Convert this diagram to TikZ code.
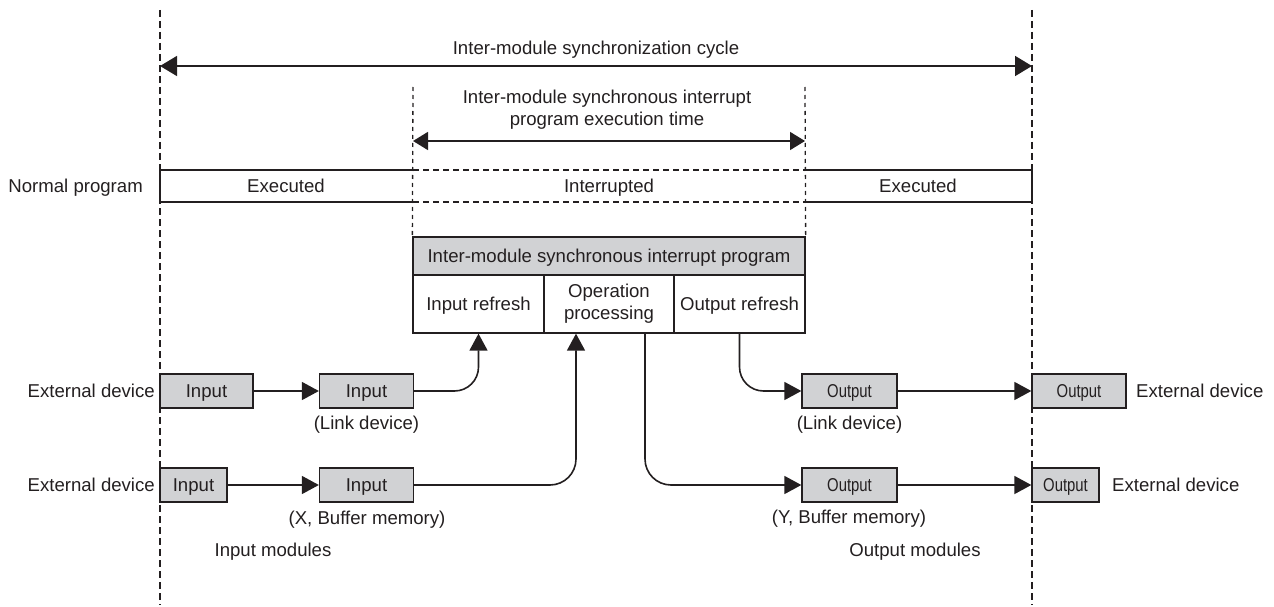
\documentclass[tikz,border=0pt]{standalone}
\usepackage{fontspec}
\usepackage{graphicx}
\setmainfont{Liberation Sans}
\usetikzlibrary{arrows.meta}
\definecolor{ink}{HTML}{231F20}
\definecolor{boxgray}{HTML}{D1D2D4}
\begin{document}
\begin{tikzpicture}[x=1pt,y=-1pt,
  font=\fontsize{18.6}{22}\selectfont,
  every node/.style={text=ink, text height=13.4pt, text depth=0pt},
  multi/.style={text height=, text depth=},
  gbox/.style={draw=ink, fill=boxgray, line width=1.3pt, minimum height=34pt, inner sep=0pt},
  cell/.style={draw=ink, line width=1.3pt, minimum height=58pt, inner sep=0pt, align=center},
  hdrbox/.style={draw=ink, fill=boxgray, line width=1.3pt, minimum height=38pt, minimum width=392pt, inner sep=0pt},
  arr/.style={draw=ink, line width=1.6pt, -{Triangle[length=17pt,width=18pt]}},
  dimarr/.style={draw=ink, line width=1.6pt, {Triangle[length=17pt,width=20pt]}-{Triangle[length=17pt,width=20pt]}},
  dimarrs/.style={draw=ink, line width=1.6pt, {Triangle[length=15pt,width=18pt]}-{Triangle[length=15pt,width=18pt]}},
  outerdash/.style={draw=ink, line width=1.8pt, dash pattern=on 7pt off 4pt},
  innerdash/.style={draw=ink, line width=1.3pt, dash pattern=on 4pt off 4pt},
  barline/.style={draw=ink, line width=1.4pt},
  bardash/.style={draw=ink, line width=1.4pt, dash pattern=on 6pt off 4pt},
  lbl/.style={inner sep=0pt}]
\useasboundingbox (0,0) rectangle (1274,607);

% vertical dashed guides
\coordinate (Ltop) at (160,10);
\coordinate (Lbot) at (160,605);
\coordinate (Rtop) at (1032,10);
\coordinate (Rbot) at (1032,605);
\coordinate (ILtop) at (413,87);
\coordinate (IRtop) at (805,87);

% interrupt program box
\node[hdrbox] (hdr) at (609,256) {Inter-module synchronous interrupt program};
\node[cell, minimum width=131pt] (ir) at (478.5,304) {Input refresh};
\node[cell, multi, minimum width=130pt] (op) at (609,304) {Operation\\processing};
\node[cell, minimum width=131pt] (or) at (739.5,304) {Output refresh};

\draw[outerdash] (Ltop) -- (Lbot);
\draw[outerdash] (Rtop) -- (Rbot);
\draw[innerdash] (ILtop) -- (hdr.north west);
\draw[innerdash] (IRtop) -- (hdr.north east);

% dimension arrows
\coordinate (c1L) at (160,66);
\coordinate (c1R) at (1032,66);
\draw[dimarr] (c1L) -- (c1R);
\node[lbl] (cyc) at (596,48) {Inter-module synchronization cycle};
\coordinate (c2L) at (413,141);
\coordinate (c2R) at (805,141);
\draw[dimarrs] (c2L) -- (c2R);
\node[lbl, multi, align=center] (ext) at (607,110) {Inter-module synchronous interrupt\\program execution time};

% normal program bar
\coordinate (b1t) at (160,170); \coordinate (b1b) at (160,202);
\coordinate (b2t) at (413,170); \coordinate (b2b) at (413,202);
\coordinate (b3t) at (805,170); \coordinate (b3b) at (805,202);
\coordinate (b4t) at (1032,170); \coordinate (b4b) at (1032,202);
\draw[barline] (b2t) -- (b1t) -- (b1b) -- (b2b);
\draw[bardash] (b2t) -- (b3t) (b2b) -- (b3b);
\draw[barline] (b3t) -- (b4t) -- (b4b) -- (b3b);
\node[lbl, anchor=east] (np) at (143,186) {Normal program};
\node[lbl] (ex1) at (286,186) {Executed};
\node[lbl] (intr) at (609,186) {Interrupted};
\node[lbl] (ex2) at (918,186) {Executed};

% input side
\node[gbox, minimum width=93pt] (in1) at (206.5,391) {Input};
\node[gbox, minimum width=94pt] (in1b) at (366.5,391) {Input};
\node[gbox, minimum width=67pt] (in2) at (193.5,485) {Input};
\node[gbox, minimum width=94pt] (in2b) at (366.5,485) {Input};
\node[lbl, anchor=east] (ed1) at (155,391) {External device};
\node[lbl, anchor=east] (ed2) at (155,485) {External device};
\node[lbl] (ld1) at (366.5,423) {(Link device)};
\node[lbl] (xb) at (367,518) {(X, Buffer memory)};
\node[lbl] (im) at (273,550) {Input modules};

% output side
\node[gbox, minimum width=95pt] (out1) at (849.5,391) {\scalebox{0.8}[1]{Output}};
\node[gbox, minimum width=95pt] (out2) at (849.5,485) {\scalebox{0.8}[1]{Output}};
\node[gbox, minimum width=94pt] (ext1) at (1079,391) {\scalebox{0.8}[1]{Output}};
\node[gbox, minimum width=67pt] (ext2) at (1065.5,485) {\scalebox{0.8}[1]{Output}};
\node[lbl, anchor=west] (ed3) at (1136,391) {External device};
\node[lbl, anchor=west] (ed4) at (1112,485) {External device};
\node[lbl] (ld2) at (849.5,423) {(Link device)};
\node[lbl] (yb) at (849,517) {(Y, Buffer memory)};
\node[lbl] (om) at (915,550) {Output modules};

% connectors
\draw[arr] (in1.east) -- (in1b.west);
\draw[arr] (in2.east) -- (in2b.west);
\draw[arr, rounded corners=24pt] (in1b.east) -| (ir.south);
\draw[arr, rounded corners=26pt] (in2b.east) -| ([xshift=-33pt]op.south);
\draw[arr, rounded corners=26pt] ([xshift=36pt]op.south) |- (out2.west);
\draw[arr, rounded corners=24pt] (or.south) |- (out1.west);
\draw[arr] (out1.east) -- (ext1.west);
\draw[arr] (out2.east) -- (ext2.west);
\end{tikzpicture}
\end{document}
